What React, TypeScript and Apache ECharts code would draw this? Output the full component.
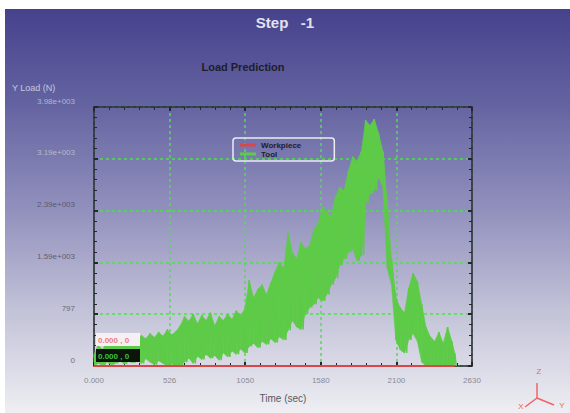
import React, { useEffect, useRef } from "react";
import * as echarts from "echarts";

// Load history sampled in 30 s buckets: peak and trough of the tool load inside each bucket
const toolTime = [
  0, 30, 60, 90, 120, 150, 180, 210, 240, 270, 300, 330, 360, 390, 420, 450, 480, 510, 540, 570,
  600, 630, 660, 690, 720, 750, 780, 810, 840, 870, 900, 930, 960, 990, 1020, 1050, 1080, 1110,
  1140, 1170, 1200, 1230, 1260, 1290, 1320, 1350, 1380, 1410, 1440, 1470, 1500, 1530, 1560, 1590,
  1620, 1650, 1680, 1710, 1740, 1770, 1800, 1830, 1860, 1890, 1920, 1950, 1980, 2010, 2040, 2070,
  2100, 2130, 2160, 2190, 2220, 2250, 2280, 2310, 2340, 2370, 2400, 2430, 2460, 2490, 2510,
];
const toolHigh = [
  180, 320, 250, 380, 300, 400, 330, 420, 360, 450, 380, 470, 420, 500, 440, 520, 460, 560, 480, 530,
  620, 760, 690, 800, 650, 780, 700, 820, 620, 760, 700, 800, 720, 850, 780, 880, 1320, 1050,
  1180, 1250, 1100, 1280, 1450, 1600, 1500, 2050, 1750, 1650, 1900, 1800, 1850, 2100, 2200, 2450,
  2380, 2300, 2600, 2750, 2700, 3000, 3220, 3150, 3300, 3780, 3700, 3800, 3580, 3300, 2500, 1650,
  1050, 900, 820, 1200, 1430, 1300, 950, 600, 450, 380, 520, 350, 600, 380, 200,
];
const toolLow = [
  20, 40, 10, 60, 20, 40, 80, 30, 70, 50, 90, 40, 110, 60, 20, 80, 40, 0, 30, 0,
  10, 60, 120, 40, 150, 100, 180, 120, 160, 90, 200, 140, 230, 180, 260, 200, 300, 350,
  280, 380, 330, 420, 360, 450, 400, 550, 700, 600, 560, 800, 900, 950, 1050, 1000,
  1100, 1250, 1350, 1550, 1650, 1750, 1800, 1620, 1700, 2500, 2650, 2700, 2900, 2750, 1500, 1250,
  400, 250, 200, 400, 500, 380, 60, 0, 0, 0, 0, 0, 0, 0, 0,
];

const workpieceTime = [0, 2510];
const workpieceLoad = [0, 0];

const xTickLabels = ["0.000", "526", "1050", "1580", "2100", "2630"];
const yTickLabels = ["0", "797", "1.59e+003", "2.39e+003", "3.19e+003", "3.98e+003"];
const yLabelShades = ["#707078", "#6c6c78", "#5e5e70", "#5a5a70", "#b8b8cc", "#b4b4c8"];

const X_MAX = 2630;
const X_STEP = 526;
const Y_MAX = 3985;
const Y_STEP = 797;

const TOOL_GREEN = "#5ecb48";
const GRID_GREEN = "#4fe04f";

export default function App() {
  const ref = useRef<HTMLDivElement>(null);

  useEffect(() => {
    if (!ref.current) return;
    const chart = echarts.init(ref.current, undefined, { renderer: "svg" });

    // zig-zag between bucket peaks and troughs to trace the noisy signal
    const toolData: number[][] = [];
    toolTime.forEach((t, i) => {
      const next = i < toolTime.length - 1 ? toolTime[i + 1] : t + 20;
      toolData.push([t, toolHigh[i]]);
      toolData.push([(t + next) / 2, toolLow[i]]);
    });
    // filled band between consecutive buckets
    const bandData = toolTime.map((t, i) => [t, toolHigh[i], toolLow[i], i]);
    const workData = workpieceTime.map((t, i) => [t, workpieceLoad[i]]);

    const tickCommon = {
      axisLine: { show: true, onZero: false, lineStyle: { color: "#262630", width: 1.5 } },
      axisTick: { show: true, inside: true, length: 4, lineStyle: { color: "#262630", width: 2 } },
      minorTick: { show: true, splitNumber: 5, length: 3, lineStyle: { color: "#262630", width: 1 } },
    };
    const gridLine = { show: true, lineStyle: { color: GRID_GREEN, type: [3, 3], width: 1.5 } };
    const smallText = (text: string, x: number, y: number, fill: string, align = "left", weight = "normal") => ({
      type: "text",
      x,
      y,
      z: 100,
      style: { text, fill, font: `${weight} 8px 'Liberation Sans'`, align, verticalAlign: "middle" },
    });

    chart.setOption({
      animation: false,
      backgroundColor: new echarts.graphic.LinearGradient(0, 0, 0, 1, [
        { offset: 0, color: "#433e8a" },
        { offset: 0.25, color: "#6463a1" },
        { offset: 0.5, color: "#908fbc" },
        { offset: 0.75, color: "#c2c2d8" },
        { offset: 1, color: "#eeeef3" },
      ]),
      grid: { left: 94, top: 107, right: 98, bottom: 47, show: false },
      legend: {
        orient: "vertical",
        left: 233,
        top: 138,
        data: ["Workpiece", "Tool"],
        icon: "rect",
        itemWidth: 16,
        itemHeight: 3,
        itemGap: 1,
        padding: [3, 33, 3, 7],
        borderColor: "#ececf2",
        borderWidth: 1.5,
        borderRadius: 3,
        textStyle: { fontSize: 8, fontWeight: "bold", color: "#20202a", fontFamily: "Liberation Sans" },
      },
      xAxis: [
        {
          type: "value",
          min: 0,
          max: X_MAX,
          interval: X_STEP,
          name: "Time (sec)",
          nameLocation: "middle",
          nameGap: 27,
          nameTextStyle: { fontSize: 10, color: "#58585f", fontFamily: "Liberation Sans" },
          ...tickCommon,
          axisLabel: {
            margin: 10,
            fontSize: 8,
            color: "#8a8a94",
            fontFamily: "Liberation Sans",
            formatter: (v: number) => xTickLabels[Math.round(v / X_STEP)] ?? "",
          },
          splitLine: gridLine,
        },
        {
          type: "value",
          position: "top",
          min: 0,
          max: X_MAX,
          interval: X_STEP,
          ...tickCommon,
          axisLabel: { show: false },
          splitLine: { show: false },
        },
      ],
      yAxis: [
        {
          type: "value",
          min: 0,
          max: Y_MAX,
          interval: Y_STEP,
          ...tickCommon,
          axisLabel: {
            margin: 19,
            fontSize: 8,
            color: (v: number) => yLabelShades[Math.round(v / Y_STEP)] ?? "#888",
            fontFamily: "Liberation Sans",
            verticalAlign: "bottom",
            padding: [0, 0, 2, 0],
            formatter: (v: number) => yTickLabels[Math.round(v / Y_STEP)] ?? "",
          },
          splitLine: gridLine,
        },
        {
          type: "value",
          position: "right",
          min: 0,
          max: Y_MAX,
          interval: Y_STEP,
          ...tickCommon,
          axisLabel: { show: false },
          splitLine: { show: false },
        },
      ],
      series: [
        {
          name: "toolBand",
          type: "custom",
          data: bandData,
          encode: { x: 0, y: [1, 2] },
          silent: true,
          z: 1,
          clip: true,
          renderItem: (params: any, api: any) => {
            const i = api.value(3);
            if (i >= toolTime.length - 1) return null;
            const a1 = api.coord([toolTime[i], toolHigh[i]]);
            const a2 = api.coord([toolTime[i + 1], toolHigh[i + 1]]);
            const b2 = api.coord([toolTime[i + 1], toolLow[i + 1]]);
            const b1 = api.coord([toolTime[i], toolLow[i]]);
            return {
              type: "polygon",
              shape: { points: [a1, a2, b2, b1] },
              style: { fill: TOOL_GREEN, stroke: TOOL_GREEN, lineWidth: 0.6 },
            };
          },
        },
        {
          name: "Tool",
          type: "line",
          data: toolData,
          showSymbol: false,
          color: TOOL_GREEN,
          lineStyle: { color: TOOL_GREEN, width: 1.6 },
          z: 2,
        },
        {
          name: "Workpiece",
          type: "line",
          data: workData,
          showSymbol: false,
          color: "#d8484a",
          lineStyle: { color: "#d8484a", width: 2 },
          z: 3,
        },
      ],
      graphic: [
        // page margin
        { type: "rect", shape: { x: 0, y: 0, width: 570, height: 9 }, style: { fill: "#ffffff" }, silent: true },
        { type: "rect", shape: { x: 0, y: 0, width: 5, height: 413 }, style: { fill: "#ffffff" }, silent: true },
        {
          type: "text",
          x: 285,
          y: 22,
          style: {
            text: "Step   -1",
            fill: "#e2e2f0",
            font: "bold 15px 'Liberation Sans'",
            align: "center",
            verticalAlign: "middle",
          },
        },
        {
          type: "text",
          x: 243,
          y: 67,
          style: {
            text: "Load Prediction",
            fill: "#1e1e28",
            font: "bold 11px 'Liberation Sans'",
            align: "center",
            verticalAlign: "middle",
          },
        },
        {
          type: "text",
          x: 12,
          y: 88,
          style: {
            text: "Y Load (N)",
            fill: "#c8c8dc",
            font: "9px 'Liberation Sans'",
            align: "left",
            verticalAlign: "middle",
          },
        },
        // cursor readouts
        { type: "rect", z: 100, shape: { x: 96, y: 333, width: 44, height: 13 }, style: { fill: "#f4f0f4" } },
        smallText("0.000 , 0", 98, 340, "#f07c84", "left", "bold"),
        { type: "rect", z: 100, shape: { x: 96, y: 349, width: 44, height: 13 }, style: { fill: "#0c140c" } },
        smallText("0.000 , 0", 98, 356, "#3cc43c", "left", "bold"),
        // orientation triad
        { type: "line", z: 100, shape: { x1: 537, y1: 383, x2: 537, y2: 398 }, style: { stroke: "#f06464", lineWidth: 1.5 } },
        { type: "line", z: 100, shape: { x1: 537, y1: 398, x2: 525, y2: 407 }, style: { stroke: "#f06464", lineWidth: 1.5 } },
        { type: "line", z: 100, shape: { x1: 537, y1: 398, x2: 554, y2: 405 }, style: { stroke: "#f06464", lineWidth: 1.5 } },
        smallText("Z", 539, 371, "#f06464", "center"),
        smallText("Y", 562, 405, "#f06464", "center"),
        smallText("X", 521, 406, "#f06464", "center"),
      ],
    });

    return () => chart.dispose();
  }, []);

  return <div ref={ref} style={{ position: "fixed", left: 0, top: 0, width: 570, height: 413 }} />;
}
